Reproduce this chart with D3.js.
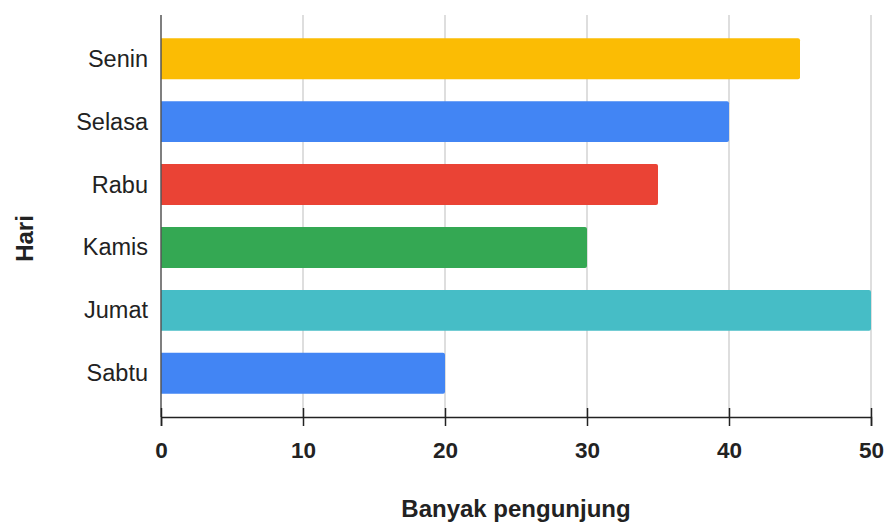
<!DOCTYPE html>
<html>
<head>
<meta charset="utf-8">
<script src="https://cdn.jsdelivr.net/npm/d3@7"></script>
<style>
  html, body { margin: 0; padding: 0; background: #fff; }
  svg { display: block; font-family: Arial, "Liberation Sans", sans-serif; }
</style>
</head>
<body>
<svg id="chart" width="886" height="525"></svg>
<script>
const days = ["Senin", "Selasa", "Rabu", "Kamis", "Jumat", "Sabtu"];
const visitors = [45, 40, 35, 30, 50, 20];
const barColors = ["#FBBC04", "#4285F4", "#EA4335", "#34A853", "#46BDC6", "#4285F4"];
const xTicks = [0, 10, 20, 30, 40, 50];

const svg = d3.select("#chart");
const plotLeft = 161, plotRight = 871, plotTop = 15, plotBottom = 417;

const x = d3.scaleLinear().domain([0, 50]).range([plotLeft, plotRight]);
const y = d3.scaleBand().domain(days).range([plotTop, plotBottom])
  .paddingInner(0.35).paddingOuter(0.37);

// vertical gridlines
svg.append("g").selectAll("line").data(xTicks.slice(1)).join("line")
  .attr("x1", d => x(d)).attr("x2", d => x(d))
  .attr("y1", plotTop).attr("y2", plotBottom)
  .attr("stroke", "#cccccc").attr("stroke-width", 1.3);

// bars: square at the baseline, slightly rounded at the value end
function barPath(x0, x1, y0, h, r) {
  return `M${x0},${y0}H${x1 - r}Q${x1},${y0} ${x1},${y0 + r}` +
         `V${y0 + h - r}Q${x1},${y0 + h} ${x1 - r},${y0 + h}H${x0}Z`;
}
svg.append("g").selectAll("path").data(days).join("path")
  .attr("d", (d, i) => barPath(x(0), x(visitors[i]), y(d), y.bandwidth(), 2))
  .attr("fill", (d, i) => barColors[i]);

// category axis
svg.append("line")
  .attr("x1", plotLeft).attr("x2", plotLeft).attr("y1", plotTop).attr("y2", plotBottom)
  .attr("stroke", "#555").attr("stroke-width", 1.5);

svg.append("g").selectAll("text").data(days).join("text")
  .attr("x", plotLeft - 13)
  .attr("y", d => y(d) + y.bandwidth() / 2 + 8)
  .attr("text-anchor", "end")
  .attr("font-size", 23.5)
  .attr("fill", "#222")
  .text(d => d);

// value axis
const xAxis = d3.axisBottom(x).tickValues(xTicks).tickSize(9).tickPadding(22);
const gx = svg.append("g").attr("transform", `translate(0,${plotBottom})`).call(xAxis);
gx.select(".domain").attr("stroke", "#222").attr("stroke-width", 1.5);
gx.selectAll(".tick line").attr("y1", -9).attr("y2", 9)
  .attr("stroke", "#222").attr("stroke-width", 1.5);
gx.selectAll(".tick text")
  .attr("font-family", "Arial, 'Liberation Sans', sans-serif")
  .attr("font-size", 22.5).attr("font-weight", "bold").attr("fill", "#222")
  .attr("dy", null).attr("y", 41);

// axis titles
svg.append("text")
  .attr("x", (plotLeft + plotRight) / 2).attr("y", 517)
  .attr("text-anchor", "middle")
  .attr("font-size", 24).attr("font-weight", "bold").attr("fill", "#222")
  .text("Banyak pengunjung");

svg.append("text")
  .attr("transform", "translate(33,238.5) rotate(-90)")
  .attr("text-anchor", "middle")
  .attr("font-size", 24).attr("font-weight", "bold").attr("fill", "#222")
  .text("Hari");
</script>
</body>
</html>
